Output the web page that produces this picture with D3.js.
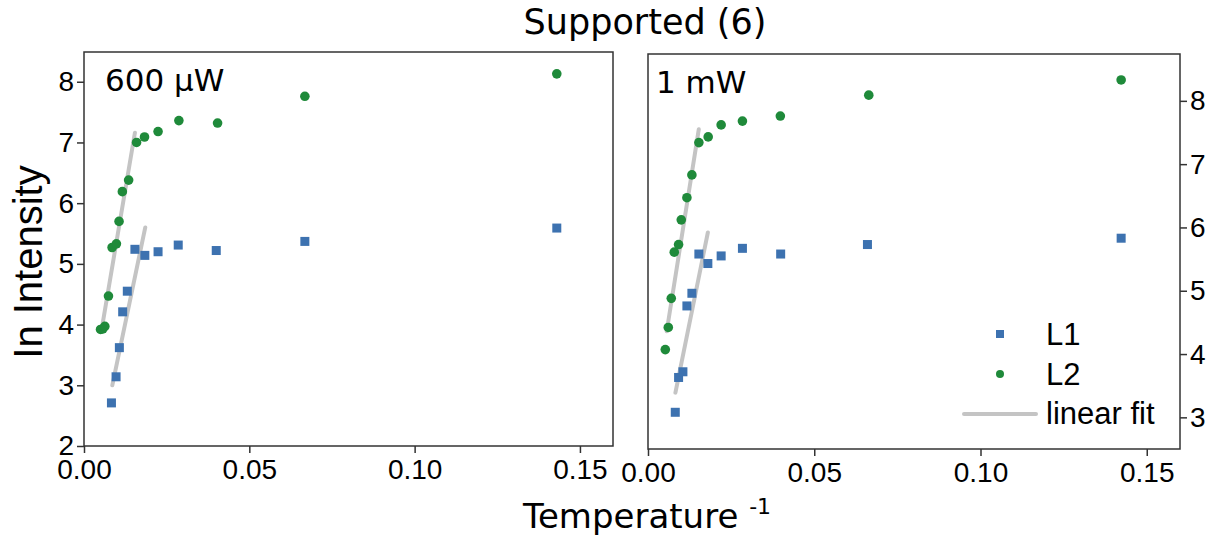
<!DOCTYPE html>
<html>
<head>
<meta charset="utf-8">
<script src="https://cdn.jsdelivr.net/npm/d3@7"></script>
<style>
  body { margin: 0; background: #fff; }
  svg { display: block; }
  .tick text { font-family: "Liberation Sans", Arial, sans-serif; font-size: 28px; fill: #000; }
  .domain { display: none; }
  .tick line { stroke: #333; stroke-width: 1.5px; }
</style>
</head>
<body>
<svg id="chart" width="1218" height="541"></svg>
<script>
// left panel, 600 uW
const leftL1x = [0.0083, 0.0097, 0.0107, 0.0117, 0.0131, 0.0154, 0.0184, 0.0224, 0.0285, 0.0400, 0.0668, 0.1430]
const leftL1y = [2.71, 3.14, 3.62, 4.21, 4.55, 5.24, 5.14, 5.20, 5.31, 5.22, 5.37, 5.59]
const leftL2x = [0.0050, 0.0057, 0.0063, 0.0074, 0.0085, 0.0098, 0.0106, 0.0116, 0.0135, 0.0159, 0.0183, 0.0224, 0.0287, 0.0404, 0.0668, 0.1430]
const leftL2y = [3.92, 3.93, 3.97, 4.47, 5.27, 5.33, 5.70, 6.19, 6.38, 7.00, 7.09, 7.18, 7.36, 7.32, 7.76, 8.13]
const leftFitL1 = [[0.00856, 3.00], [0.01853, 5.60]]
const leftFitL2 = [[0.00565, 4.02], [0.01540, 7.16]]

// right panel, 1 mW
const rightL1x = [0.0082, 0.0092, 0.0105, 0.0117, 0.0132, 0.0153, 0.0180, 0.0220, 0.0284, 0.0399, 0.0660, 0.1423]
const rightL1y = [3.08, 3.63, 3.72, 4.76, 4.96, 5.58, 5.43, 5.55, 5.67, 5.58, 5.73, 5.83]
const rightL2x = [0.0052, 0.0061, 0.0070, 0.0079, 0.0092, 0.0100, 0.0117, 0.0132, 0.0153, 0.0181, 0.0220, 0.0284, 0.0398, 0.0664, 0.1423]
const rightL2y = [4.07, 4.42, 4.88, 5.61, 5.73, 6.12, 6.47, 6.83, 7.34, 7.43, 7.62, 7.68, 7.76, 8.09, 8.33]
const rightFitL1 = [[0.00825, 3.39], [0.01800, 5.92]]
const rightFitL2 = [[0.00563, 4.36], [0.01527, 7.55]]

const xTicks = [0, 0.05, 0.10, 0.15]
const leftYTicks = [2, 3, 4, 5, 6, 7, 8]
const rightYTicks = [3, 4, 5, 6, 7, 8]

const blue = '#3d72b0'
const green = '#1f8a3a'
const fitColor = '#c4c4c4'

const svg = d3.select('#chart')

const panels = [
    { label: '600 µW', x0: 84, x1: 613, y0: 52, y1: 446, yDomain: [2, 8.49], yTicks: leftYTicks, side: 'left',
      l1x: leftL1x, l1y: leftL1y, l2x: leftL2x, l2y: leftL2y, fit1: leftFitL1, fit2: leftFitL2 },
    { label: '1 mW', x0: 648, x1: 1180, y0: 54, y1: 449, yDomain: [2.5, 8.74], yTicks: rightYTicks, side: 'right',
      l1x: rightL1x, l1y: rightL1y, l2x: rightL2x, l2y: rightL2y, fit1: rightFitL1, fit2: rightFitL2 }
]

panels.forEach(p => {
    const x = d3.scaleLinear().domain([0, 0.16]).range([p.x0, p.x1])
    const y = d3.scaleLinear().domain(p.yDomain).range([p.y1, p.y0])
    const g = svg.append('g')

    g.append('rect')
        .attr('x', p.x0).attr('y', p.y0)
        .attr('width', p.x1 - p.x0).attr('height', p.y1 - p.y0)
        .attr('fill', 'none').attr('stroke', '#333').attr('stroke-width', 1.5)

    g.append('g')
        .attr('transform', `translate(0,${p.y1})`)
        .call(d3.axisBottom(x).tickValues(xTicks).tickFormat(d3.format('.2f')).tickSizeOuter(0).tickSize(7).tickPadding(6))

    if (p.side == 'left') {
        g.append('g')
            .attr('transform', `translate(${p.x0},0)`)
            .call(d3.axisLeft(y).tickValues(p.yTicks).tickFormat(d3.format('d')).tickSizeOuter(0).tickSize(7).tickPadding(3))
    } else {
        g.append('g')
            .attr('transform', `translate(${p.x1},0)`)
            .call(d3.axisRight(y).tickValues(p.yTicks).tickFormat(d3.format('d')).tickSizeOuter(0).tickSize(7).tickPadding(3))
    }

    const line = d3.line().x(d => x(d[0])).y(d => y(d[1]))
    ;[p.fit1, p.fit2].forEach(f => {
        g.append('path')
            .attr('d', line(f))
            .attr('fill', 'none')
            .attr('stroke', fitColor)
            .attr('stroke-width', 4)
            .attr('stroke-linecap', 'round')
    })

    g.selectAll('rect.l1')
        .data(p.l1x.map((v, i) => [v, p.l1y[i]]))
        .enter()
        .append('rect')
        .attr('class', 'l1')
        .attr('x', d => x(d[0]) - 4.5)
        .attr('y', d => y(d[1]) - 4.5)
        .attr('width', 9).attr('height', 9)
        .attr('fill', blue)

    g.selectAll('circle.l2')
        .data(p.l2x.map((v, i) => [v, p.l2y[i]]))
        .enter()
        .append('circle')
        .attr('class', 'l2')
        .attr('cx', d => x(d[0]))
        .attr('cy', d => y(d[1]))
        .attr('r', 4.8)
        .attr('fill', green)

    g.append('text')
        .attr('x', p.x0 + (p.side == 'left' ? 21 : 8))
        .attr('y', p.y0 + 39)
        .style('font-family', '"DejaVu Sans", sans-serif')
        .style('font-size', '31px')
        .text(p.label)
})

// legend in the right panel
const legend = svg.append('g').style('font-family', '"Liberation Sans", Arial, sans-serif').style('font-size', '31px')
legend.append('rect').attr('x', 996).attr('y', 330).attr('width', 8).attr('height', 8).attr('fill', blue)
legend.append('text').attr('x', 1046).attr('y', 345).text('L1')
legend.append('circle').attr('cx', 1000).attr('cy', 374).attr('r', 4).attr('fill', green)
legend.append('text').attr('x', 1046).attr('y', 385).text('L2')
legend.append('line').attr('x1', 964).attr('x2', 1036).attr('y1', 414).attr('y2', 414)
    .attr('stroke', fitColor).attr('stroke-width', 4).attr('stroke-linecap', 'round')
legend.append('text').attr('x', 1046).attr('y', 424).text('linear fit')

// titles
svg.append('text')
    .attr('x', 645).attr('y', 34)
    .attr('text-anchor', 'middle')
    .style('font-family', '"DejaVu Sans", sans-serif')
    .style('font-size', '35px')
    .text('Supported (6)')

const xlab = svg.append('text')
    .attr('x', 647).attr('y', 528)
    .attr('text-anchor', 'middle')
    .style('font-family', '"DejaVu Sans", sans-serif')
    .style('font-size', '34px')
xlab.append('tspan').text('Temperature ')
xlab.append('tspan').attr('dy', -14).style('font-size', '22px').text('-1')

svg.append('text')
    .attr('transform', 'translate(42,262) rotate(-90)')
    .attr('text-anchor', 'middle')
    .style('font-family', '"Liberation Sans", Arial, sans-serif')
    .style('font-size', '40px')
    .text('In Intensity')
</script>
</body>
</html>
